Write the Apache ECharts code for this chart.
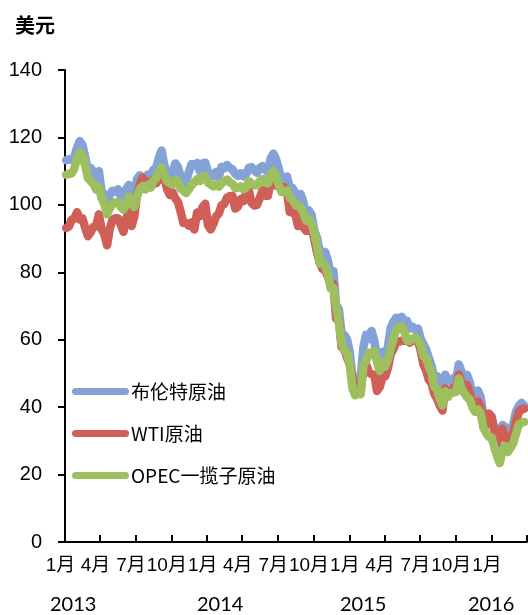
<!DOCTYPE html>
<html>
<head>
<meta charset="utf-8">
<script src="https://cdn.jsdelivr.net/npm/echarts@6/dist/echarts.min.js"></script>
<style>
  html, body { margin: 0; padding: 0; background: #ffffff; }
  #chart { width: 528px; height: 615px; }
</style>
</head>
<body>
<div id="chart"></div>
<script>
// Weekly crude prices (USD per barrel), one value per Friday from 2013-01-04 to 2016-03-25
const seriesNames = ['布伦特原油', 'WTI原油', 'OPEC一揽子原油'];
const firstFriday = '2013-01-04';

const brent = [
  // 2013
  113.2, 113.5, 113.4, 114.3, 117.0, 118.9, 117.7, 114.0, 110.4, 110.9,
  109.8, 107.6, 110.0, 104.1, 102.9, 99.7, 103.2, 104.2, 103.9, 104.6,
  102.6, 100.4, 104.6, 105.9, 101.0, 102.2, 107.7, 108.8, 108.1, 107.2,
  109.0, 108.2, 110.4, 111.0, 114.0, 116.1, 111.7, 109.2, 108.6, 109.5,
  112.3, 111.2, 108.5, 107.4, 106.6, 109.8, 112.1, 111.8, 112.4, 110.0,
  112.3, 112.5,
  // 2014
  109.8, 109.2, 108.5, 109.8, 108.4, 111.3, 110.9, 111.8, 111.0, 110.5,
  109.2, 108.6, 109.4, 108.5, 109.1, 111.0, 111.2, 110.2, 109.5, 111.0,
  111.5, 110.4, 109.6, 113.8, 115.2, 113.5, 110.6, 107.2, 107.6, 108.4,
  105.0, 105.0, 103.5, 102.3, 103.2, 100.8, 97.1, 98.4, 97.0, 92.3,
  90.2, 86.2, 86.1, 86.0, 83.4, 79.4, 80.4, 70.2, 69.1, 61.9,
  61.4, 60.2,
  // 2015
  56.4, 48.5, 47.5, 48.8, 49.0, 57.8, 61.5, 60.2, 62.6, 59.7,
  54.7, 55.3, 56.4, 55.0, 57.9, 63.5, 65.3, 66.5, 65.4, 66.8,
  65.4, 65.6, 63.3, 63.9, 63.0, 63.3, 60.3, 58.7, 57.1, 54.6,
  52.2, 48.6, 49.2, 45.5, 44.0, 49.6, 48.1, 47.5, 48.6, 48.1,
  52.7, 50.5, 48.0, 49.6, 47.4, 43.6, 44.7, 44.9, 43.0, 37.9,
  36.9, 37.9,
  // 2016
  37.3, 33.6, 28.9, 32.2, 34.7, 34.1, 33.4, 33.0, 35.1, 38.7,
  40.4, 41.2, 40.4
];

const wti = [
  // 2013
  93.1, 93.6, 95.6, 95.9, 97.8, 95.7, 95.9, 93.1, 90.7, 91.9,
  93.5, 93.7, 97.2, 92.7, 91.3, 88.0, 93.0, 95.6, 96.0, 96.0,
  94.2, 92.0, 96.0, 97.9, 93.7, 96.6, 103.2, 105.9, 108.1, 104.7,
  106.9, 106.0, 107.5, 106.4, 107.7, 108.5, 108.2, 104.7, 102.9, 103.8,
  102.0, 100.8, 97.9, 94.6, 94.6, 93.8, 94.8, 92.7, 97.7, 96.6,
  99.3, 100.3,
  // 2014
  94.0, 92.7, 94.4, 96.6, 97.5, 99.9, 100.3, 102.2, 102.6, 102.6,
  98.9, 99.5, 101.7, 101.1, 103.7, 104.3, 100.6, 99.8, 100.0, 102.0,
  104.4, 102.7, 102.7, 107.0, 107.3, 105.7, 106.0, 104.5, 105.2, 104.0,
  97.9, 97.7, 97.4, 93.7, 96.0, 93.3, 92.3, 92.4, 93.5, 89.7,
  85.8, 82.8, 81.0, 80.5, 78.7, 75.8, 76.5, 66.2, 65.8, 57.8,
  57.1, 54.7,
  // 2015
  52.7, 48.4, 46.5, 45.6, 45.0, 51.7, 52.8, 50.3, 49.8, 49.6,
  44.8, 46.0, 48.9, 49.1, 51.6, 55.7, 57.2, 59.2, 59.4, 59.7,
  59.7, 60.3, 59.1, 60.0, 59.6, 59.6, 56.9, 52.7, 50.9, 48.1,
  47.1, 43.9, 42.5, 40.5, 39.0, 45.5, 44.6, 44.7, 45.7, 45.5,
  49.6, 47.3, 44.6, 46.6, 44.3, 40.7, 40.4, 41.7, 40.0, 35.6,
  34.7, 38.1,
  // 2016
  37.0, 33.2, 29.4, 32.2, 33.6, 30.9, 29.4, 29.6, 32.8, 35.9,
  38.5, 39.4, 39.5
];

const opec = [
  // 2013
  108.9, 109.2, 109.3, 110.8, 113.9, 115.5, 114.6, 111.5, 107.9, 107.0,
  106.2, 104.5, 105.3, 102.0, 100.2, 97.2, 99.0, 100.3, 100.8, 100.7,
  99.4, 98.6, 100.0, 102.4, 100.5, 99.4, 102.6, 104.7, 105.6, 104.6,
  106.0, 105.1, 107.2, 107.8, 109.9, 111.0, 108.9, 107.0, 106.4, 106.0,
  107.4, 106.9, 104.8, 104.2, 103.5, 104.6, 105.9, 106.6, 107.6, 107.1,
  108.2, 108.5,
  // 2014
  106.6, 106.0, 105.5, 106.1, 105.4, 106.4, 107.0, 107.5, 106.7, 106.2,
  105.0, 105.0, 105.5, 104.6, 105.2, 107.0, 106.3, 105.8, 105.8, 107.1,
  107.6, 106.6, 106.4, 108.8, 110.0, 108.3, 105.8, 103.8, 104.0, 104.3,
  102.2, 101.5, 100.2, 99.5, 99.4, 97.6, 95.3, 95.9, 94.6, 91.5,
  88.0, 82.6, 83.0, 81.8, 79.5, 75.3, 75.4, 70.0, 64.9, 59.0,
  56.8, 56.0,
  // 2015
  52.5, 45.5, 43.5, 44.5, 43.8, 52.4, 53.7, 56.1, 56.1, 56.6,
  53.4, 50.7, 53.4, 52.0, 54.1, 57.2, 60.2, 62.8, 63.8, 63.9,
  62.4, 59.8, 59.6, 60.4, 60.7, 59.8, 58.4, 55.1, 54.6, 52.1,
  50.1, 46.0, 45.4, 42.4, 40.5, 44.7, 43.0, 44.2, 44.3, 44.5,
  48.5, 45.5, 44.2, 42.9, 42.4, 39.9, 38.6, 39.3, 38.2, 33.9,
  32.4, 31.2,
  // 2016
  31.1, 28.1, 25.5, 23.4, 27.0, 28.5, 26.7, 28.0, 29.4, 32.2,
  34.8, 35.4, 35.6
];

// Quarter boundaries used for ticks; all but the last carry a month label
const quarterTicks = [
  '2013-01-01', '2013-04-01', '2013-07-01', '2013-10-01',
  '2014-01-01', '2014-04-01', '2014-07-01', '2014-10-01',
  '2015-01-01', '2015-04-01', '2015-07-01', '2015-10-01',
  '2016-01-01', '2016-04-01'
];
const yearLabels = ['2013', '2014', '2015', '2016'];
const yearLabelLeft = [50, 197, 340, 468];

const colors = ['#84a2d6', '#cf5f57', '#9dbf5e'];

const DAY = 86400000;
const toTs = s => Date.parse(s + 'T00:00:00Z');
const start = toTs(firstFriday);
const pairs = arr => arr.map((v, i) => [start + i * 7 * DAY, v]);

const tickValues = quarterTicks.map(toTs);
const labelValues = tickValues.slice(0, -1);

const chart = echarts.init(document.getElementById('chart'), null, { renderer: 'canvas' });

const cjk = '"Noto Sans CJK SC", sans-serif';
const latinCjk = '"Liberation Sans", Arial, "Noto Sans CJK SC", sans-serif';
const capsule = 'path://M3.5 0H53.5A3.5 3.5 0 0 1 53.5 7H3.5A3.5 3.5 0 0 1 3.5 0Z';

chart.setOption({
  animation: false,
  backgroundColor: '#ffffff',
  title: {
    text: '美元',
    left: 10,
    top: 10,
    textStyle: { fontSize: 20, fontWeight: 'bold', color: '#000', fontFamily: cjk }
  },
  grid: { left: 65, right: 1, top: 70, bottom: 73 },
  legend: {
    orient: 'vertical',
    left: 67,
    top: 377,
    itemWidth: 57,
    itemHeight: 7,
    itemGap: 23,
    icon: capsule,
    data: seriesNames,
    textStyle: { fontSize: 19, color: '#000', fontFamily: cjk, padding: [0, 0, 0, -3] }
  },
  graphic: yearLabels.map((t, i) => ({
    type: 'text',
    left: yearLabelLeft[i],
    top: 595,
    style: { text: t, fontSize: 20, fill: '#000', fontFamily: 'Lato, "Liberation Sans", sans-serif' }
  })),
  xAxis: {
    type: 'value',
    min: tickValues[0],
    max: tickValues[tickValues.length - 1],
    splitLine: { show: false },
    axisLine: { show: true, lineStyle: { color: '#000', width: 2 } },
    axisTick: {
      show: true, inside: true, length: 7,
      customValues: tickValues,
      lineStyle: { color: '#000', width: 2 }
    },
    axisLabel: {
      customValues: labelValues,
      hideOverlap: false,
      margin: 14,
      fontSize: 19,
      color: '#000',
      fontFamily: latinCjk,
      padding: [0, 9, 0, 0],
      formatter: v => (new Date(v).getUTCMonth() + 1) + '月'
    }
  },
  yAxis: {
    type: 'value',
    min: 0,
    max: 140,
    interval: 20,
    splitLine: { show: false },
    axisLine: { show: true, lineStyle: { color: '#000', width: 2 } },
    axisTick: { show: true, length: 7, lineStyle: { color: '#000', width: 2 } },
    axisLabel: { margin: 23, fontSize: 20, color: '#000', fontFamily: latinCjk }
  },
  series: [brent, wti, opec].map((d, i) => ({
    name: seriesNames[i],
    type: 'line',
    data: pairs(d),
    showSymbol: false,
    symbol: 'none',
    color: colors[i],
    lineStyle: { width: 8.5, color: colors[i], cap: 'round', join: 'round' }
  }))
});
</script>
</body>
</html>
